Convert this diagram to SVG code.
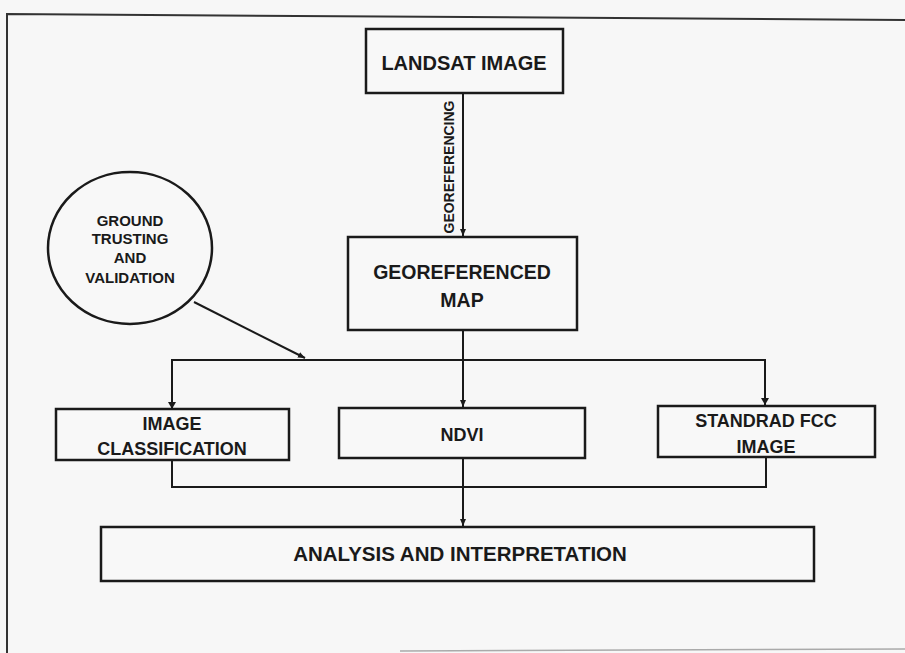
<svg xmlns="http://www.w3.org/2000/svg" width="905" height="653" viewBox="0 0 905 653">
<style>
.box{fill:#f8f8f8;stroke:#1a1a1a;stroke-width:2.5}
.ln{fill:none;stroke:#1a1a1a;stroke-width:2}
.t{font-family:"Liberation Sans",Arial,sans-serif;font-weight:bold;fill:#1a1a1a;text-anchor:middle}
</style>
<defs>
<marker id="ah" markerWidth="8" markerHeight="8" refX="7" refY="4" orient="auto" markerUnits="userSpaceOnUse">
<path d="M0,1 L7,4 L0,7 Z" fill="#1a1a1a"/>
</marker>
</defs>
<rect x="0" y="0" width="905" height="653" fill="#f7f7f7"/>
<path d="M7,653 L7,14 L905,20" fill="none" stroke="#333" stroke-width="2"/>
<path d="M400,651 L905,649" fill="none" stroke="#aaa" stroke-width="1.5"/>

<g id="connectors">
<line class="ln" x1="463" y1="94" x2="463" y2="236" marker-end="url(#ah)"/>
<text class="t" font-size="14" transform="translate(454,167) rotate(-90)">GEOREFERENCING</text>
<line class="ln" x1="463" y1="330" x2="463" y2="407" marker-end="url(#ah)"/>
<path class="ln" d="M172,409 L172,360 L765,360 L765,405"/>
<path d="M168,402 L172,409 L176,402 Z" fill="#1a1a1a"/>
<path d="M761,398 L765,405 L769,398 Z" fill="#1a1a1a"/>
<line class="ln" x1="194" y1="302" x2="305" y2="358" marker-end="url(#ah)"/>
<path class="ln" d="M172,460 L172,487 L766,487 L766,457"/>
<line class="ln" x1="463" y1="458" x2="463" y2="526" marker-end="url(#ah)"/>
</g>

<g id="landsat">
<rect class="box" x="366" y="29" width="197" height="64"/>
<text class="t" font-size="20" x="464" y="70">LANDSAT IMAGE</text>
</g>

<g id="georef-map">
<rect class="box" x="348" y="237" width="229" height="93"/>
<text class="t" font-size="19.5" x="462" y="279">GEOREFERENCED</text>
<text class="t" font-size="19.5" x="462" y="307">MAP</text>
</g>

<g id="ground-truthing">
<ellipse cx="130" cy="248" rx="82" ry="76" fill="#f8f8f8" stroke="#1a1a1a" stroke-width="2.5"/>
<text class="t" font-size="15" x="130" y="226">GROUND</text>
<text class="t" font-size="15" x="130" y="244">TRUSTING</text>
<text class="t" font-size="15" x="130" y="263">AND</text>
<text class="t" font-size="15" x="130" y="283">VALIDATION</text>
</g>

<g id="image-classification">
<rect class="box" x="56" y="409" width="233" height="51"/>
<text class="t" font-size="18" x="172" y="430">IMAGE</text>
<text class="t" font-size="18" x="172" y="455">CLASSIFICATION</text>
</g>

<g id="ndvi">
<rect class="box" x="339" y="408" width="246" height="50"/>
<text class="t" font-size="18" x="462" y="441">NDVI</text>
</g>

<g id="standard-fcc">
<rect class="box" x="658" y="406" width="217" height="51"/>
<text class="t" font-size="18" x="766" y="427">STANDRAD FCC</text>
<text class="t" font-size="18" x="766" y="453">IMAGE</text>
</g>

<g id="analysis">
<rect class="box" x="101" y="527" width="713" height="54"/>
<text class="t" font-size="20.5" x="460" y="561">ANALYSIS AND INTERPRETATION</text>
</g>
</svg>
